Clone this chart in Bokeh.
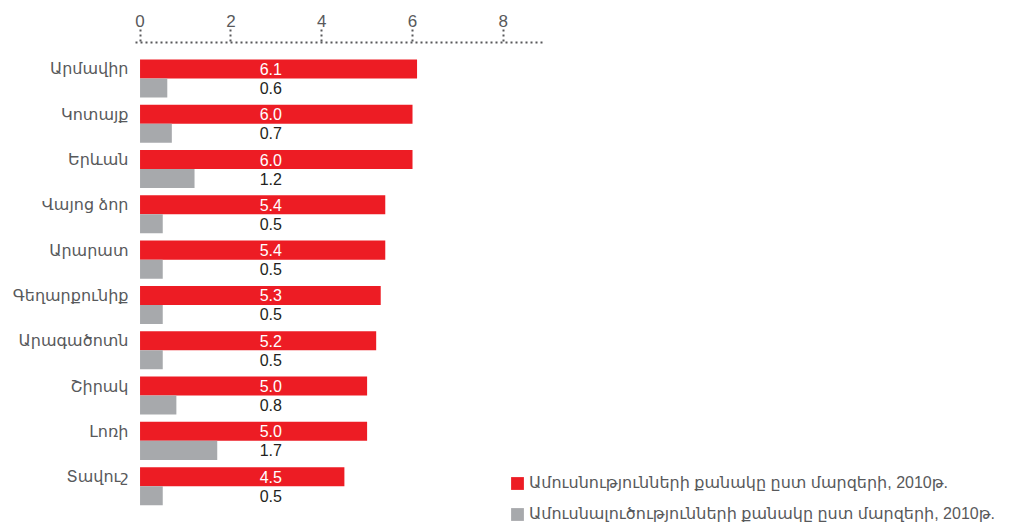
from bokeh.plotting import figure
from bokeh.models import ColumnDataSource, Range1d, FixedTicker, Legend, LegendItem
from bokeh.transform import dodge
from bokeh.core.properties import value
from bokeh.embed import file_html
from bokeh.resources import INLINE

regions = ["Արմավիր", "Կոտայք", "Երևան", "Վայոց ձոր", "Արարատ",
           "Գեղարքունիք", "Արագածոտն", "Շիրակ", "Լոռի", "Տավուշ"]
marriages = [6.1, 6.0, 6.0, 5.4, 5.4, 5.3, 5.2, 5.0, 5.0, 4.5]
divorces = [0.6, 0.7, 1.2, 0.5, 0.5, 0.5, 0.5, 0.8, 1.7, 0.5]
x_ticks = [0, 2, 4, 6, 8]
legend_labels = ["Ամուսնությունների քանակը ըստ մարզերի, 2010թ.",
                 "Ամուսնալուծությունների քանակը ըստ մարզերի, 2010թ."]

RED = "#ED1C24"
GRAY = "#A7A9AC"
TXT = "#58595B"
FONT = "'Liberation Sans', 'DejaVu Sans', sans-serif"
LABEL_X = 2.88
BAR_H = 0.42

pos = list(range(len(regions)))
src = ColumnDataSource(dict(
    pos=pos,
    m=marriages,
    d=divorces,
    m_txt=[f"{v:.1f}" for v in marriages],
    d_txt=[f"{v:.1f}" for v in divorces],
    lx=[LABEL_X] * len(regions),
))

# y axis inverted: first region on top
y_range = Range1d(start=10.1, end=-0.583)
x_range = Range1d(start=-0.1, end=19.3)

p = figure(y_range=y_range, x_range=x_range, width=1016, height=526,
           min_border_left=135, min_border_right=0, min_border_top=42, min_border_bottom=0,
           x_axis_location="above", y_axis_location="left",
           output_backend="svg", toolbar_location=None)

r_m = p.hbar(y="pos", right="m", left=0, height=BAR_H,
             color=RED, line_color=None, source=src)
r_d = p.hbar(y=dodge("pos", BAR_H), right="d", left=0, height=BAR_H,
             color=GRAY, line_color=None, source=src)

p.text(x="lx", y="pos", text="m_txt", source=src,
       text_color="white", text_font=value(FONT), text_font_size="16px",
       text_align="center", text_baseline="middle")
p.text(x="lx", y=dodge("pos", BAR_H), text="d_txt", source=src,
       text_color="#231F20", text_font=value(FONT), text_font_size="16px",
       text_align="center", text_baseline="middle")

ax = p.xaxis[0]
ax.ticker = FixedTicker(ticks=x_ticks)
ax.bounds = (-0.1, 8.88)
ax.axis_line_color = TXT
ax.axis_line_width = 2
ax.axis_line_dash = "2 3"
ax.major_tick_line_color = TXT
ax.major_tick_line_width = 2
ax.major_tick_line_dash = "2 3"
ax.major_tick_out = 13
ax.major_tick_in = 0
ax.minor_tick_line_color = None
ax.major_label_standoff = 3
ax.major_label_text_font = FONT
ax.major_label_text_font_size = "17px"
ax.major_label_text_color = TXT

ay = p.yaxis[0]
ay.ticker = FixedTicker(ticks=pos)
ay.major_label_overrides = {i: name for i, name in zip(pos, regions)}
ay.axis_line_color = None
ay.major_tick_line_color = None
ay.minor_tick_line_color = None
ay.major_tick_out = 0
ay.major_tick_in = 0
ay.major_label_standoff = 7
ay.major_label_text_font = FONT
ay.major_label_text_font_size = "16px"
ay.major_label_text_color = TXT

p.xgrid.visible = False
p.ygrid.visible = False
p.outline_line_color = None
p.background_fill_color = "white"
p.border_fill_color = "white"

legend = Legend(items=[LegendItem(label=legend_labels[0], renderers=[r_m]),
                       LegendItem(label=legend_labels[1], renderers=[r_d])],
                location=(374, 3), orientation="vertical",
                glyph_width=16, glyph_height=16, label_height=16, label_standoff=4,
                spacing=12, padding=0, margin=0,
                border_line_color=None, background_fill_alpha=0,
                label_text_font=FONT, label_text_font_size="16px", label_text_color=TXT)
p.add_layout(legend, "center")

open("out.html", "w").write(file_html(p, INLINE))
